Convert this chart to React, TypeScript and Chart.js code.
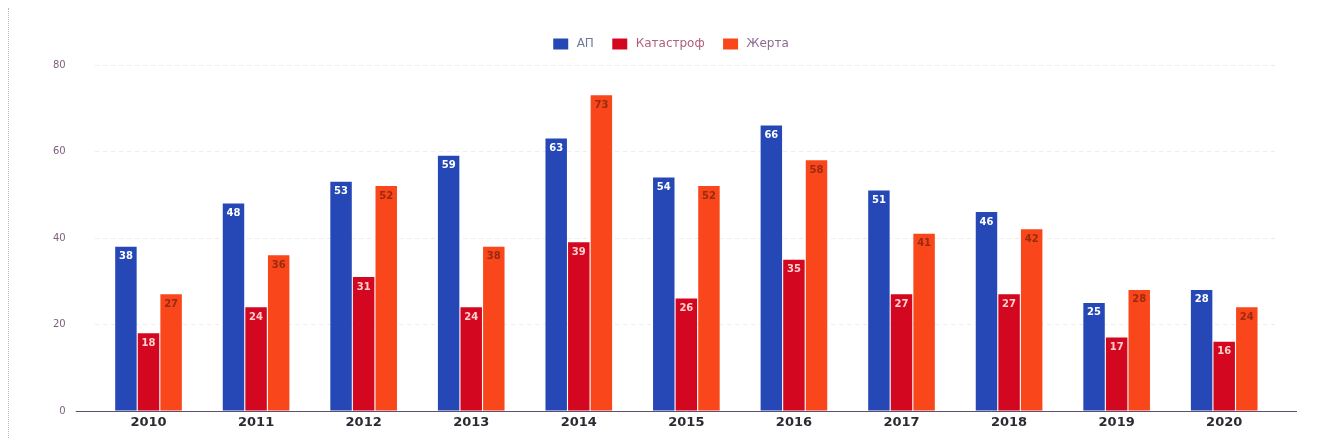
import React, { useEffect, useRef } from "react";
import { Chart, registerables } from "chart.js";

Chart.register(...registerables);

const years = ["2010", "2011", "2012", "2013", "2014", "2015", "2016", "2017", "2018", "2019", "2020"];
const apValues = [38, 48, 53, 59, 63, 54, 66, 51, 46, 25, 28];
const catastropheValues = [18, 24, 31, 24, 39, 26, 35, 27, 27, 17, 16];
const victimValues = [27, 36, 52, 38, 73, 52, 58, 41, 42, 28, 24];
const seriesNames = ["АП", "Катастроф", "Жерта"];
const yTicks = [0, 20, 40, 60, 80];

const colors = ["#2548b6", "#d3071f", "#f9461a"];
const labelColors = ["#ffffff", "#ffd0d0", "#9a2a10"];
const legendTextColors = ["#6f7a9a", "#b0607a", "#8a6a90"];

const valueLabels = {
  id: "valueLabels",
  afterDatasetsDraw(chart: any) {
    const ctx = chart.ctx;
    ctx.save();
    ctx.font = "bold 10px 'DejaVu Sans', sans-serif";
    ctx.textAlign = "center";
    ctx.textBaseline = "middle";
    chart.data.datasets.forEach((ds: any, di: number) => {
      const meta = chart.getDatasetMeta(di);
      meta.data.forEach((el: any, i: number) => {
        ctx.fillStyle = labelColors[di];
        ctx.fillText(String(ds.data[i]), el.x, el.y + 10);
      });
    });
    ctx.restore();
  },
};

const baseline = {
  id: "baseline",
  afterDraw(chart: any) {
    const { ctx, chartArea } = chart;
    ctx.save();
    ctx.strokeStyle = "#5c4f70";
    ctx.lineWidth = 1;
    ctx.beginPath();
    ctx.moveTo(chartArea.left - 19, chartArea.bottom + 0.5);
    ctx.lineTo(chartArea.right + 19, chartArea.bottom + 0.5);
    ctx.stroke();
    ctx.restore();
  },
};

const legendTweak = {
  id: "legendTweak",
  beforeInit(chart: any) {
    const legend = chart.legend;
    if (!legend) return;
    const origFit = legend.fit;
    legend.fit = function () {
      origFit.call(this);
      this.height += 5;
    };
    const origDraw = legend.draw;
    legend.draw = function () {
      const ctx = this.ctx;
      ctx.save();
      ctx.translate(20, 0);
      origDraw.call(this);
      ctx.restore();
    };
  },
};

export default function App() {
  const ref = useRef<HTMLCanvasElement>(null);
  useEffect(() => {
    if (!ref.current) return;
    const data = [apValues, catastropheValues, victimValues];
    const chart = new Chart(ref.current, {
      type: "bar",
      data: {
        labels: years,
        datasets: data.map((d, i) => ({
          label: seriesNames[i],
          data: d,
          backgroundColor: colors[i],
          borderWidth: 0,
          categoryPercentage: 0.63,
          barPercentage: 0.95,
        })),
      },
      options: {
        animation: false,
        responsive: false,
        maintainAspectRatio: false,
        layout: { padding: { left: 15, right: 32, top: 20, bottom: 1 } },
        plugins: {
          legend: {
            position: "top",
            labels: {
              boxWidth: 15,
              boxHeight: 11,
              padding: 10,
              font: { size: 12, family: "'DejaVu Sans', sans-serif" },
              generateLabels: (chart: any) =>
                chart.data.datasets.map((ds: any, i: number) => ({
                  text: "\u2009" + ds.label + (i < chart.data.datasets.length - 1 ? "\u2002\u2009" : ""),
                  fillStyle: colors[i],
                  strokeStyle: colors[i],
                  lineWidth: 0,
                  fontColor: legendTextColors[i],
                  hidden: false,
                  datasetIndex: i,
                })),
            },
          },
          tooltip: { enabled: false },
        },
        scales: {
          x: {
            grid: { display: false, drawTicks: false },
            border: { display: false },
            ticks: {
              padding: 4,
              color: "#2b2b33",
              font: { size: 13, weight: "bold", family: "'DejaVu Sans', sans-serif" },
            },
          },
          y: {
            min: 0,
            max: 80,
            afterBuildTicks: (axis: any) => {
              axis.ticks = yTicks.map((v) => ({ value: v }));
            },
            grid: { color: "rgba(0,0,0,0.07)", drawTicks: false },
            border: { display: false, dash: [4, 4] },
            ticks: {
              padding: 29,
              color: "#80607e",
              font: { size: 10, family: "'DejaVu Sans', sans-serif" },
            },
          },
        },
      },
      plugins: [valueLabels, baseline, legendTweak],
    });
    return () => chart.destroy();
  }, []);
  return (
    <div style={{ width: 1302, height: 438, marginBottom: -8, borderLeft: "1px dotted #b8b8c8", boxSizing: "border-box" }}>
      <canvas ref={ref} width={1301} height={438} style={{ display: "block" }} />
    </div>
  );
}
